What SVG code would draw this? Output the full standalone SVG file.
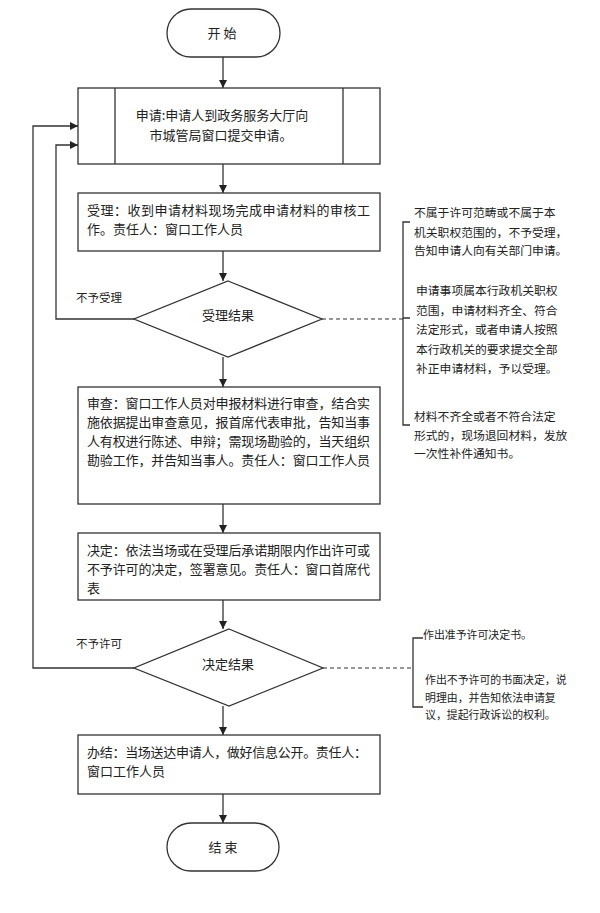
<svg xmlns="http://www.w3.org/2000/svg" width="600" height="913" viewBox="0 0 600 913">
<style>
.s{fill:#fff;stroke:#333;stroke-width:1.3}
.c{fill:none;stroke:#333;stroke-width:1.3}
.d{fill:none;stroke:#333;stroke-width:1.1;stroke-dasharray:4 3}
text{font-family:"Noto Sans CJK SC","Noto Sans CJK TC",sans-serif;fill:#222}
.t{font-size:13px}
.m{text-anchor:middle}
.r{font-size:11.8px}
.q{font-size:10.9px}
.l{font-size:11.5px}
</style>
<defs>
<marker id="a" viewBox="0 0 10 10" refX="10" refY="5" markerWidth="8" markerHeight="8" markerUnits="userSpaceOnUse" orient="auto">
<path d="M0,0 L10,5 L0,10 z" fill="#222"/>
</marker>
</defs>
<rect width="600" height="913" fill="#fff"/>
<g id="connectors">
<path class="c" d="M223,57 V88" marker-end="url(#a)"/>
<path class="c" d="M223,164 V193" marker-end="url(#a)"/>
<path class="c" d="M223,251 V281" marker-end="url(#a)"/>
<path class="c" d="M223,357 V387" marker-end="url(#a)"/>
<path class="c" d="M223,504 V533" marker-end="url(#a)"/>
<path class="c" d="M223,600 V629" marker-end="url(#a)"/>
<path class="c" d="M223,706 V735" marker-end="url(#a)"/>
<path class="c" d="M223,794 V823" marker-end="url(#a)"/>
<path class="c" d="M134,319 H56 V145 H78" marker-end="url(#a)"/>
<path class="c" d="M134,668 H33 V126 H78" marker-end="url(#a)"/>
<path class="d" d="M322,319 H403"/>
<path class="c" d="M410,222 H403 V425 H410 M403,318 H410"/>
<path class="d" d="M323,668 H413"/>
<path class="c" d="M423,638 H413 V707 H423"/>
<text class="l" x="76" y="301.5">不予受理</text>
<text class="l" x="76" y="648">不予许可</text>
</g>
<g id="start">
<rect class="s" x="167" y="9" width="113" height="48" rx="24"/>
<text class="t m" x="222" y="38">开 始</text>
</g>
<g id="apply">
<rect class="s" x="78" y="88" width="302" height="76"/>
<path class="c" d="M115,88 V164 M343,88 V164"/>
<text class="t m" x="222" y="120">申请:申请人到政务服务大厅向</text>
<text class="t m" x="221" y="140">市城管局窗口提交申请。</text>
</g>
<g id="accept">
<rect class="s" x="78" y="193" width="302" height="58"/>
<text class="t" x="87" y="215" textLength="283">受理：收到申请材料现场完成申请材料的审核工</text>
<text class="t" x="87" y="233.5">作。责任人：窗口工作人员</text>
</g>
<g id="accept-result">
<polygon class="s" points="228,281 322,319 228,357 134,319"/>
<text class="t m" x="228" y="320">受理结果</text>
</g>
<g id="accept-notes">
<text class="r" x="414" y="217">不属于许可范畴或不属于本</text>
<text class="r" x="414" y="236.5">机关职权范围的，不予受理，</text>
<text class="r" x="414" y="255">告知申请人向有关部门申请。</text>
<text class="r" x="416" y="295">申请事项属本行政机关职权</text>
<text class="r" x="416" y="315">范围，申请材料齐全、符合</text>
<text class="r" x="416" y="334">法定形式，或者申请人按照</text>
<text class="r" x="416" y="354">本行政机关的要求提交全部</text>
<text class="r" x="416" y="373">补正申请材料，予以受理。</text>
<text class="r" x="414" y="420.5">材料不齐全或者不符合法定</text>
<text class="r" x="414" y="439.5">形式的，现场退回材料，发放</text>
<text class="r" x="414" y="458">一次性补件通知书。</text>
</g>
<g id="review">
<rect class="s" x="78" y="387" width="302" height="117"/>
<text class="t" x="87" y="408" textLength="283">审查：窗口工作人员对申报材料进行审查，结合实</text>
<text class="t" x="87" y="427" textLength="283">施依据提出审查意见，报首席代表审批，告知当事</text>
<text class="t" x="87" y="446" textLength="283">人有权进行陈述、申辩；需现场勘验的，当天组织</text>
<text class="t" x="87" y="465" textLength="283">勘验工作，并告知当事人。责任人：窗口工作人员</text>
</g>
<g id="decide">
<rect class="s" x="78" y="533" width="302" height="67"/>
<text class="t" x="87" y="555" textLength="283">决定：依法当场或在受理后承诺期限内作出许可或</text>
<text class="t" x="87" y="574" textLength="283">不予许可的决定，签署意见。责任人：窗口首席代</text>
<text class="t" x="87" y="593">表</text>
</g>
<g id="decide-result">
<polygon class="s" points="229,629 323,668 229,706 134,668"/>
<text class="t m" x="228" y="669">决定结果</text>
</g>
<g id="decide-notes">
<text class="q" x="423" y="639">作出准予许可决定书。</text>
<text class="q" x="425" y="684">作出不予许可的书面决定，说</text>
<text class="q" x="425" y="701.5">明理由，并告知依法申请复</text>
<text class="q" x="425" y="719">议，提起行政诉讼的权利。</text>
</g>
<g id="finish">
<rect class="s" x="78" y="735" width="302" height="59"/>
<text class="t" x="87" y="757" textLength="280">办结：当场送达申请人，做好信息公开。责任人：</text>
<text class="t" x="87" y="776">窗口工作人员</text>
</g>
<g id="end">
<rect class="s" x="167" y="823" width="112" height="48" rx="24"/>
<text class="t m" x="223" y="852">结 束</text>
</g>
</svg>
